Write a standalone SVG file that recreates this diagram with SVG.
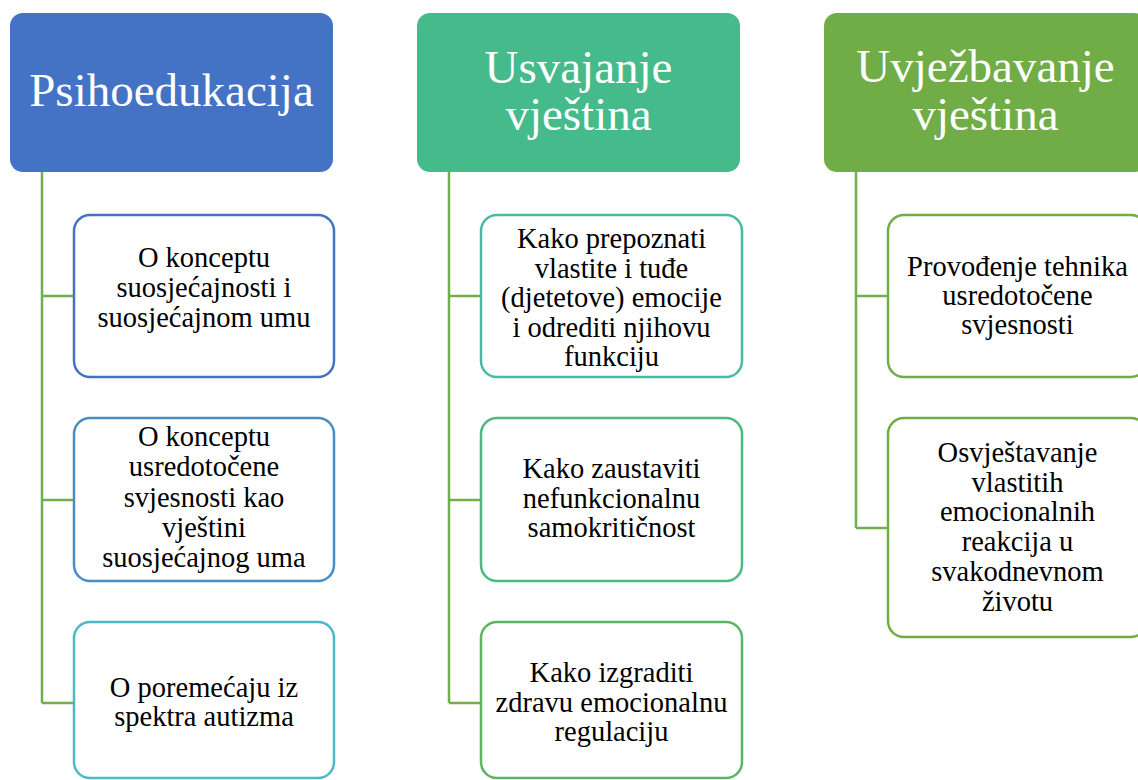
<svg xmlns="http://www.w3.org/2000/svg" width="1138" height="780" viewBox="0 0 1138 780">
<style>
.hdr{stroke:none}
.hdr-t{font-family:'Liberation Serif','DejaVu Serif',serif;font-size:47px;fill:#ffffff;text-anchor:middle}
.box{fill:#ffffff;stroke-width:2.5}
.box-t{font-family:'Liberation Serif','DejaVu Serif',serif;font-size:28.5px;fill:#000000;text-anchor:middle}
.conn{fill:none;stroke:#72AE4A;stroke-width:2.5}
</style>
<rect width="1138" height="780" fill="#ffffff"/>
<g id="connectors">
<path class="conn" d="M42 172 V703 M42 296 H74 M42 500 H74 M42 703 H74"/>
<path class="conn" d="M449 172 V703 M449 296 H481 M449 500 H481 M449 703 H481"/>
<path class="conn" d="M856 172 V528 M856 296 H888 M856 528 H888"/>
</g>
<g id="h1">
<rect class="hdr" x="10" y="13" width="323" height="159" rx="13" fill="#4472C4"/>
<text class="hdr-t" x="171.5" y="106">Psihoedukacija</text>
</g>
<g id="h2">
<rect class="hdr" x="417" y="13" width="323" height="159" rx="13" fill="#45BB8C"/>
<text class="hdr-t" x="578.5"><tspan x="578.5" y="83">Usvajanje</tspan><tspan x="578.5" y="130">vještina</tspan></text>
</g>
<g id="h3">
<rect class="hdr" x="824" y="13" width="323" height="159" rx="13" fill="#70AD47"/>
<text class="hdr-t" x="985.5"><tspan x="985.5" y="82">Uvježbavanje</tspan><tspan x="985.5" y="130">vještina</tspan></text>
</g>
<g id="c1a">
<rect class="box" x="74" y="215" width="260" height="162" rx="16" stroke="#4472C4"/>
<text class="box-t"><tspan x="204" y="267">O konceptu</tspan><tspan x="204" y="297">suosjećajnosti i</tspan><tspan x="204" y="327">suosjećajnom umu</tspan></text>
</g>
<g id="c1b">
<rect class="box" x="74" y="418" width="260" height="163" rx="16" stroke="#4A8EC6"/>
<text class="box-t"><tspan x="204" y="446">O konceptu</tspan><tspan x="204" y="476">usredotočene</tspan><tspan x="204" y="507">svjesnosti kao</tspan><tspan x="204" y="537">vještini</tspan><tspan x="204" y="567">suosjećajnog uma</tspan></text>
</g>
<g id="c1c">
<rect class="box" x="74" y="622" width="260" height="156" rx="16" stroke="#4BBAC4"/>
<text class="box-t"><tspan x="204" y="697">O poremećaju iz</tspan><tspan x="204" y="726">spektra autizma</tspan></text>
</g>
<g id="c2a">
<rect class="box" x="481" y="215" width="261" height="162" rx="16" stroke="#46BCA0"/>
<text class="box-t" font-size="27.5"><tspan x="611.5" y="248">Kako prepoznati</tspan><tspan x="611.5" y="277.5">vlastite i tuđe</tspan><tspan x="611.5" y="307">(djetetove) emocije</tspan><tspan x="611.5" y="336.5">i odrediti njihovu</tspan><tspan x="611.5" y="366">funkciju</tspan></text>
</g>
<g id="c2b">
<rect class="box" x="481" y="418" width="261" height="163" rx="16" stroke="#4CB97E"/>
<text class="box-t"><tspan x="611.5" y="478">Kako zaustaviti</tspan><tspan x="611.5" y="508">nefunkcionalnu</tspan><tspan x="611.5" y="537">samokritičnost</tspan></text>
</g>
<g id="c2c">
<rect class="box" x="481" y="622" width="261" height="156" rx="16" stroke="#5BB562"/>
<text class="box-t"><tspan x="611.5" y="682">Kako izgraditi</tspan><tspan x="611.5" y="712">zdravu emocionalnu</tspan><tspan x="611.5" y="741">regulaciju</tspan></text>
</g>
<g id="c3a">
<rect class="box" x="888" y="215" width="259" height="162" rx="16" stroke="#70AD47"/>
<text class="box-t"><tspan x="1017.5" y="276">Provođenje tehnika</tspan><tspan x="1017.5" y="305">usredotočene</tspan><tspan x="1017.5" y="334">svjesnosti</tspan></text>
</g>
<g id="c3b">
<rect class="box" x="888" y="418" width="259" height="219" rx="16" stroke="#70AD47"/>
<text class="box-t"><tspan x="1017.5" y="462">Osvještavanje</tspan><tspan x="1017.5" y="492">vlastitih</tspan><tspan x="1017.5" y="521">emocionalnih</tspan><tspan x="1017.5" y="551">reakcija u</tspan><tspan x="1017.5" y="581">svakodnevnom</tspan><tspan x="1017.5" y="611">životu</tspan></text>
</g>
</svg>
